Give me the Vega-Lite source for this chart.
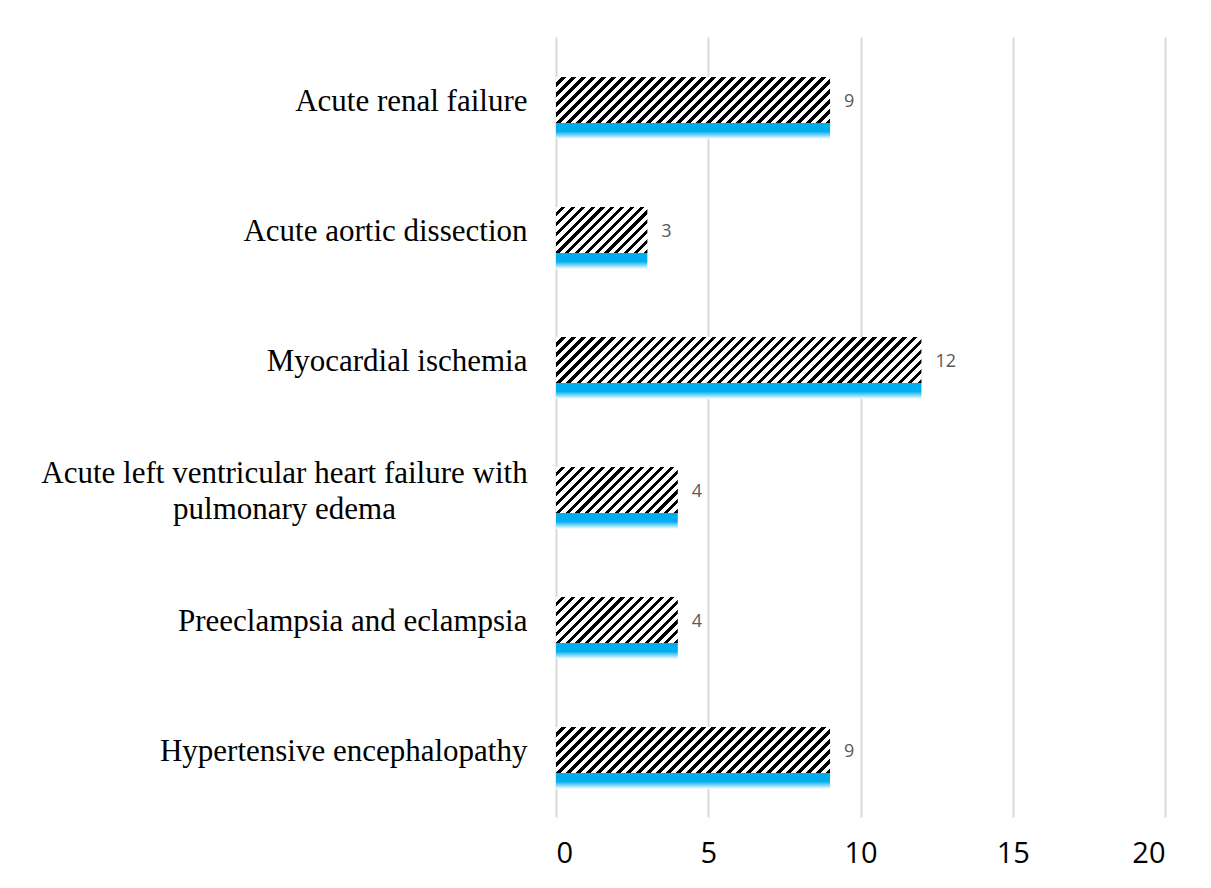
{
"$schema": "https://vega.github.io/schema/vega-lite/v6.json",
"width": 609,
"height": 780,
"autosize": {"type": "none"},
"padding": {"left": 556, "top": 37, "right": 46, "bottom": 71},
"background": "white",
"config": {"view": {"stroke": null}},
"data": {"values": [
{"cause": "Acute renal failure", "value": 9},
{"cause": "Acute aortic dissection", "value": 3},
{"cause": "Myocardial ischemia", "value": 12},
{"cause": "Acute left ventricular heart failure with pulmonary edema", "value": 4},
{"cause": "Preeclampsia and eclampsia", "value": 4},
{"cause": "Hypertensive encephalopathy", "value": 9}
]},
"encoding": {
"y": {"field": "cause", "type": "nominal",
"scale": {"domain": ["Acute renal failure", "Acute aortic dissection", "Myocardial ischemia", "Acute left ventricular heart failure with pulmonary edema", "Preeclampsia and eclampsia", "Hypertensive encephalopathy"], "paddingInner": 0.5, "paddingOuter": 0.25},
"axis": {"title": null, "domain": false, "ticks": false, "grid": false, "labelFont": "Liberation Serif", "labelFontSize": 31, "labelColor": "#000000", "labelLimit": 1000, "labelLineHeight": 36,
"labelExpr": "datum.value == 'Acute left ventricular heart failure with pulmonary edema' ? ['Acute left ventricular heart failure with', 'pulmonary edema'] : datum.label",
"labelAlign": {"condition": {"test": "datum.value == 'Acute left ventricular heart failure with pulmonary edema'", "value": "center"}, "value": "right"},
"labelPadding": {"condition": {"test": "datum.value == 'Acute left ventricular heart failure with pulmonary edema'", "value": 272}, "value": 29},
"labelOffset": {"condition": {"test": "datum.value == 'Acute left ventricular heart failure with pulmonary edema'", "value": -18}, "value": 0}}},
"x": {"field": "value", "type": "quantitative",
"scale": {"domain": [0, 20], "nice": false},
"axis": {"title": null, "domain": false, "ticks": false, "grid": true, "gridColor": "#d9d9d9", "gridWidth": 2, "values": [0, 5, 10, 15, 20], "labelFont": "Open Sans", "labelFontSize": 29, "labelColor": "#000000", "labelPadding": 22}}
},
"layer": [
{"mark": {"type": "bar", "height": 54, "yOffset": 10,
"fill": {"gradient": "linear", "x1": 0, "y1": 0, "x2": 0, "y2": 1, "stops": [
{"offset": 0, "color": "#e3f5fd"}, {"offset": 0.68, "color": "#b5e5f9"}, {"offset": 0.7, "color": "#00aeef"}, {"offset": 0.86, "color": "#00aeef"}, {"offset": 1, "color": "#ffffff"}]}}},
{"transform": [{"filter": "datum.value == 9"}],
"mark": {"type": "bar", "height": 46, "yOffset": -2,
"fill": {"gradient": "linear", "x1": 0, "y1": 0, "x2": 1.1359, "y2": 0.1907, "stops": [
{"offset":0,"color":"#fff"},{"offset":0.0181,"color":"#fff"},{"offset":0.0181,"color":"#000"},{"offset":0.0313,"color":"#000"},
{"offset":0.0313,"color":"#fff"},{"offset":0.0494,"color":"#fff"},{"offset":0.0494,"color":"#000"},{"offset":0.0625,"color":"#000"},
{"offset":0.0625,"color":"#fff"},{"offset":0.0806,"color":"#fff"},{"offset":0.0806,"color":"#000"},{"offset":0.0938,"color":"#000"},
{"offset":0.0938,"color":"#fff"},{"offset":0.1119,"color":"#fff"},{"offset":0.1119,"color":"#000"},{"offset":0.125,"color":"#000"},
{"offset":0.125,"color":"#fff"},{"offset":0.1431,"color":"#fff"},{"offset":0.1431,"color":"#000"},{"offset":0.1563,"color":"#000"},
{"offset":0.1563,"color":"#fff"},{"offset":0.1744,"color":"#fff"},{"offset":0.1744,"color":"#000"},{"offset":0.1875,"color":"#000"},
{"offset":0.1875,"color":"#fff"},{"offset":0.2056,"color":"#fff"},{"offset":0.2056,"color":"#000"},{"offset":0.2188,"color":"#000"},
{"offset":0.2188,"color":"#fff"},{"offset":0.2369,"color":"#fff"},{"offset":0.2369,"color":"#000"},{"offset":0.25,"color":"#000"},
{"offset":0.25,"color":"#fff"},{"offset":0.2681,"color":"#fff"},{"offset":0.2681,"color":"#000"},{"offset":0.2813,"color":"#000"},
{"offset":0.2813,"color":"#fff"},{"offset":0.2994,"color":"#fff"},{"offset":0.2994,"color":"#000"},{"offset":0.3125,"color":"#000"},
{"offset":0.3125,"color":"#fff"},{"offset":0.3306,"color":"#fff"},{"offset":0.3306,"color":"#000"},{"offset":0.3438,"color":"#000"},
{"offset":0.3438,"color":"#fff"},{"offset":0.3619,"color":"#fff"},{"offset":0.3619,"color":"#000"},{"offset":0.375,"color":"#000"},
{"offset":0.375,"color":"#fff"},{"offset":0.3931,"color":"#fff"},{"offset":0.3931,"color":"#000"},{"offset":0.4063,"color":"#000"},
{"offset":0.4063,"color":"#fff"},{"offset":0.4244,"color":"#fff"},{"offset":0.4244,"color":"#000"},{"offset":0.4375,"color":"#000"},
{"offset":0.4375,"color":"#fff"},{"offset":0.4556,"color":"#fff"},{"offset":0.4556,"color":"#000"},{"offset":0.4688,"color":"#000"},
{"offset":0.4688,"color":"#fff"},{"offset":0.4869,"color":"#fff"},{"offset":0.4869,"color":"#000"},{"offset":0.5,"color":"#000"},
{"offset":0.5,"color":"#fff"},{"offset":0.5181,"color":"#fff"},{"offset":0.5181,"color":"#000"},{"offset":0.5313,"color":"#000"},
{"offset":0.5313,"color":"#fff"},{"offset":0.5494,"color":"#fff"},{"offset":0.5494,"color":"#000"},{"offset":0.5625,"color":"#000"},
{"offset":0.5625,"color":"#fff"},{"offset":0.5806,"color":"#fff"},{"offset":0.5806,"color":"#000"},{"offset":0.5938,"color":"#000"},
{"offset":0.5938,"color":"#fff"},{"offset":0.6119,"color":"#fff"},{"offset":0.6119,"color":"#000"},{"offset":0.625,"color":"#000"},
{"offset":0.625,"color":"#fff"},{"offset":0.6431,"color":"#fff"},{"offset":0.6431,"color":"#000"},{"offset":0.6563,"color":"#000"},
{"offset":0.6563,"color":"#fff"},{"offset":0.6744,"color":"#fff"},{"offset":0.6744,"color":"#000"},{"offset":0.6875,"color":"#000"},
{"offset":0.6875,"color":"#fff"},{"offset":0.7056,"color":"#fff"},{"offset":0.7056,"color":"#000"},{"offset":0.7188,"color":"#000"},
{"offset":0.7188,"color":"#fff"},{"offset":0.7369,"color":"#fff"},{"offset":0.7369,"color":"#000"},{"offset":0.75,"color":"#000"},
{"offset":0.75,"color":"#fff"},{"offset":0.7681,"color":"#fff"},{"offset":0.7681,"color":"#000"},{"offset":0.7813,"color":"#000"},
{"offset":0.7813,"color":"#fff"},{"offset":0.7994,"color":"#fff"},{"offset":0.7994,"color":"#000"},{"offset":0.8125,"color":"#000"},
{"offset":0.8125,"color":"#fff"},{"offset":0.8306,"color":"#fff"},{"offset":0.8306,"color":"#000"},{"offset":0.8438,"color":"#000"},
{"offset":0.8438,"color":"#fff"},{"offset":0.8619,"color":"#fff"},{"offset":0.8619,"color":"#000"},{"offset":0.875,"color":"#000"},
{"offset":0.875,"color":"#fff"},{"offset":0.8931,"color":"#fff"},{"offset":0.8931,"color":"#000"},{"offset":0.9063,"color":"#000"},
{"offset":0.9063,"color":"#fff"},{"offset":0.9244,"color":"#fff"},{"offset":0.9244,"color":"#000"},{"offset":0.9375,"color":"#000"},
{"offset":0.9375,"color":"#fff"},{"offset":0.9556,"color":"#fff"},{"offset":0.9556,"color":"#000"},{"offset":0.9688,"color":"#000"},
{"offset":0.9688,"color":"#fff"},{"offset":0.9869,"color":"#fff"},{"offset":0.9869,"color":"#000"},{"offset":1,"color":"#000"}
]}}},
{"transform": [{"filter": "datum.value == 3"}],
"mark": {"type": "bar", "height": 46, "yOffset": -2,
"fill": {"gradient": "linear", "x1": 0, "y1": 0, "x2": 1.1994, "y2": 0.604, "stops": [
{"offset":0,"color":"#fff"},{"offset":0.0414,"color":"#fff"},{"offset":0.0414,"color":"#000"},{"offset":0.0714,"color":"#000"},
{"offset":0.0714,"color":"#fff"},{"offset":0.1129,"color":"#fff"},{"offset":0.1129,"color":"#000"},{"offset":0.1429,"color":"#000"},
{"offset":0.1429,"color":"#fff"},{"offset":0.1843,"color":"#fff"},{"offset":0.1843,"color":"#000"},{"offset":0.2143,"color":"#000"},
{"offset":0.2143,"color":"#fff"},{"offset":0.2557,"color":"#fff"},{"offset":0.2557,"color":"#000"},{"offset":0.2857,"color":"#000"},
{"offset":0.2857,"color":"#fff"},{"offset":0.3271,"color":"#fff"},{"offset":0.3271,"color":"#000"},{"offset":0.3571,"color":"#000"},
{"offset":0.3571,"color":"#fff"},{"offset":0.3986,"color":"#fff"},{"offset":0.3986,"color":"#000"},{"offset":0.4286,"color":"#000"},
{"offset":0.4286,"color":"#fff"},{"offset":0.47,"color":"#fff"},{"offset":0.47,"color":"#000"},{"offset":0.5,"color":"#000"},
{"offset":0.5,"color":"#fff"},{"offset":0.5414,"color":"#fff"},{"offset":0.5414,"color":"#000"},{"offset":0.5714,"color":"#000"},
{"offset":0.5714,"color":"#fff"},{"offset":0.6129,"color":"#fff"},{"offset":0.6129,"color":"#000"},{"offset":0.6429,"color":"#000"},
{"offset":0.6429,"color":"#fff"},{"offset":0.6843,"color":"#fff"},{"offset":0.6843,"color":"#000"},{"offset":0.7143,"color":"#000"},
{"offset":0.7143,"color":"#fff"},{"offset":0.7557,"color":"#fff"},{"offset":0.7557,"color":"#000"},{"offset":0.7857,"color":"#000"},
{"offset":0.7857,"color":"#fff"},{"offset":0.8271,"color":"#fff"},{"offset":0.8271,"color":"#000"},{"offset":0.8571,"color":"#000"},
{"offset":0.8571,"color":"#fff"},{"offset":0.8986,"color":"#fff"},{"offset":0.8986,"color":"#000"},{"offset":0.9286,"color":"#000"},
{"offset":0.9286,"color":"#fff"},{"offset":0.97,"color":"#fff"},{"offset":0.97,"color":"#000"},{"offset":1,"color":"#000"}
]}}},
{"transform": [{"filter": "datum.value == 12"}],
"mark": {"type": "bar", "height": 46, "yOffset": -2,
"fill": {"gradient": "linear", "x1": 0, "y1": 0, "x2": 1.1083, "y2": 0.1395, "stops": [
{"offset":0,"color":"#fff"},{"offset":0.0141,"color":"#fff"},{"offset":0.0141,"color":"#000"},{"offset":0.0244,"color":"#000"},
{"offset":0.0244,"color":"#fff"},{"offset":0.0385,"color":"#fff"},{"offset":0.0385,"color":"#000"},{"offset":0.0488,"color":"#000"},
{"offset":0.0488,"color":"#fff"},{"offset":0.0629,"color":"#fff"},{"offset":0.0629,"color":"#000"},{"offset":0.0732,"color":"#000"},
{"offset":0.0732,"color":"#fff"},{"offset":0.0873,"color":"#fff"},{"offset":0.0873,"color":"#000"},{"offset":0.0976,"color":"#000"},
{"offset":0.0976,"color":"#fff"},{"offset":0.1117,"color":"#fff"},{"offset":0.1117,"color":"#000"},{"offset":0.122,"color":"#000"},
{"offset":0.122,"color":"#fff"},{"offset":0.1361,"color":"#fff"},{"offset":0.1361,"color":"#000"},{"offset":0.1463,"color":"#000"},
{"offset":0.1463,"color":"#fff"},{"offset":0.1605,"color":"#fff"},{"offset":0.1605,"color":"#000"},{"offset":0.1707,"color":"#000"},
{"offset":0.1707,"color":"#fff"},{"offset":0.1849,"color":"#fff"},{"offset":0.1849,"color":"#000"},{"offset":0.1951,"color":"#000"},
{"offset":0.1951,"color":"#fff"},{"offset":0.2093,"color":"#fff"},{"offset":0.2093,"color":"#000"},{"offset":0.2195,"color":"#000"},
{"offset":0.2195,"color":"#fff"},{"offset":0.2337,"color":"#fff"},{"offset":0.2337,"color":"#000"},{"offset":0.2439,"color":"#000"},
{"offset":0.2439,"color":"#fff"},{"offset":0.258,"color":"#fff"},{"offset":0.258,"color":"#000"},{"offset":0.2683,"color":"#000"},
{"offset":0.2683,"color":"#fff"},{"offset":0.2824,"color":"#fff"},{"offset":0.2824,"color":"#000"},{"offset":0.2927,"color":"#000"},
{"offset":0.2927,"color":"#fff"},{"offset":0.3068,"color":"#fff"},{"offset":0.3068,"color":"#000"},{"offset":0.3171,"color":"#000"},
{"offset":0.3171,"color":"#fff"},{"offset":0.3312,"color":"#fff"},{"offset":0.3312,"color":"#000"},{"offset":0.3415,"color":"#000"},
{"offset":0.3415,"color":"#fff"},{"offset":0.3556,"color":"#fff"},{"offset":0.3556,"color":"#000"},{"offset":0.3659,"color":"#000"},
{"offset":0.3659,"color":"#fff"},{"offset":0.38,"color":"#fff"},{"offset":0.38,"color":"#000"},{"offset":0.3902,"color":"#000"},
{"offset":0.3902,"color":"#fff"},{"offset":0.4044,"color":"#fff"},{"offset":0.4044,"color":"#000"},{"offset":0.4146,"color":"#000"},
{"offset":0.4146,"color":"#fff"},{"offset":0.4288,"color":"#fff"},{"offset":0.4288,"color":"#000"},{"offset":0.439,"color":"#000"},
{"offset":0.439,"color":"#fff"},{"offset":0.4532,"color":"#fff"},{"offset":0.4532,"color":"#000"},{"offset":0.4634,"color":"#000"},
{"offset":0.4634,"color":"#fff"},{"offset":0.4776,"color":"#fff"},{"offset":0.4776,"color":"#000"},{"offset":0.4878,"color":"#000"},
{"offset":0.4878,"color":"#fff"},{"offset":0.502,"color":"#fff"},{"offset":0.502,"color":"#000"},{"offset":0.5122,"color":"#000"},
{"offset":0.5122,"color":"#fff"},{"offset":0.5263,"color":"#fff"},{"offset":0.5263,"color":"#000"},{"offset":0.5366,"color":"#000"},
{"offset":0.5366,"color":"#fff"},{"offset":0.5507,"color":"#fff"},{"offset":0.5507,"color":"#000"},{"offset":0.561,"color":"#000"},
{"offset":0.561,"color":"#fff"},{"offset":0.5751,"color":"#fff"},{"offset":0.5751,"color":"#000"},{"offset":0.5854,"color":"#000"},
{"offset":0.5854,"color":"#fff"},{"offset":0.5995,"color":"#fff"},{"offset":0.5995,"color":"#000"},{"offset":0.6098,"color":"#000"},
{"offset":0.6098,"color":"#fff"},{"offset":0.6239,"color":"#fff"},{"offset":0.6239,"color":"#000"},{"offset":0.6341,"color":"#000"},
{"offset":0.6341,"color":"#fff"},{"offset":0.6483,"color":"#fff"},{"offset":0.6483,"color":"#000"},{"offset":0.6585,"color":"#000"},
{"offset":0.6585,"color":"#fff"},{"offset":0.6727,"color":"#fff"},{"offset":0.6727,"color":"#000"},{"offset":0.6829,"color":"#000"},
{"offset":0.6829,"color":"#fff"},{"offset":0.6971,"color":"#fff"},{"offset":0.6971,"color":"#000"},{"offset":0.7073,"color":"#000"},
{"offset":0.7073,"color":"#fff"},{"offset":0.7215,"color":"#fff"},{"offset":0.7215,"color":"#000"},{"offset":0.7317,"color":"#000"},
{"offset":0.7317,"color":"#fff"},{"offset":0.7459,"color":"#fff"},{"offset":0.7459,"color":"#000"},{"offset":0.7561,"color":"#000"},
{"offset":0.7561,"color":"#fff"},{"offset":0.7702,"color":"#fff"},{"offset":0.7702,"color":"#000"},{"offset":0.7805,"color":"#000"},
{"offset":0.7805,"color":"#fff"},{"offset":0.7946,"color":"#fff"},{"offset":0.7946,"color":"#000"},{"offset":0.8049,"color":"#000"},
{"offset":0.8049,"color":"#fff"},{"offset":0.819,"color":"#fff"},{"offset":0.819,"color":"#000"},{"offset":0.8293,"color":"#000"},
{"offset":0.8293,"color":"#fff"},{"offset":0.8434,"color":"#fff"},{"offset":0.8434,"color":"#000"},{"offset":0.8537,"color":"#000"},
{"offset":0.8537,"color":"#fff"},{"offset":0.8678,"color":"#fff"},{"offset":0.8678,"color":"#000"},{"offset":0.878,"color":"#000"},
{"offset":0.878,"color":"#fff"},{"offset":0.8922,"color":"#fff"},{"offset":0.8922,"color":"#000"},{"offset":0.9024,"color":"#000"},
{"offset":0.9024,"color":"#fff"},{"offset":0.9166,"color":"#fff"},{"offset":0.9166,"color":"#000"},{"offset":0.9268,"color":"#000"},
{"offset":0.9268,"color":"#fff"},{"offset":0.941,"color":"#fff"},{"offset":0.941,"color":"#000"},{"offset":0.9512,"color":"#000"},
{"offset":0.9512,"color":"#fff"},{"offset":0.9654,"color":"#fff"},{"offset":0.9654,"color":"#000"},{"offset":0.9756,"color":"#000"},
{"offset":0.9756,"color":"#fff"},{"offset":0.9898,"color":"#fff"},{"offset":0.9898,"color":"#000"},{"offset":1,"color":"#000"}
]}}},
{"transform": [{"filter": "datum.value == 4"}],
"mark": {"type": "bar", "height": 46, "yOffset": -2,
"fill": {"gradient": "linear", "x1": 0, "y1": 0, "x2": 1.2057, "y2": 0.4554, "stops": [
{"offset":0,"color":"#fff"},{"offset":0.0341,"color":"#fff"},{"offset":0.0341,"color":"#000"},{"offset":0.0588,"color":"#000"},
{"offset":0.0588,"color":"#fff"},{"offset":0.0929,"color":"#fff"},{"offset":0.0929,"color":"#000"},{"offset":0.1176,"color":"#000"},
{"offset":0.1176,"color":"#fff"},{"offset":0.1518,"color":"#fff"},{"offset":0.1518,"color":"#000"},{"offset":0.1765,"color":"#000"},
{"offset":0.1765,"color":"#fff"},{"offset":0.2106,"color":"#fff"},{"offset":0.2106,"color":"#000"},{"offset":0.2353,"color":"#000"},
{"offset":0.2353,"color":"#fff"},{"offset":0.2694,"color":"#fff"},{"offset":0.2694,"color":"#000"},{"offset":0.2941,"color":"#000"},
{"offset":0.2941,"color":"#fff"},{"offset":0.3282,"color":"#fff"},{"offset":0.3282,"color":"#000"},{"offset":0.3529,"color":"#000"},
{"offset":0.3529,"color":"#fff"},{"offset":0.3871,"color":"#fff"},{"offset":0.3871,"color":"#000"},{"offset":0.4118,"color":"#000"},
{"offset":0.4118,"color":"#fff"},{"offset":0.4459,"color":"#fff"},{"offset":0.4459,"color":"#000"},{"offset":0.4706,"color":"#000"},
{"offset":0.4706,"color":"#fff"},{"offset":0.5047,"color":"#fff"},{"offset":0.5047,"color":"#000"},{"offset":0.5294,"color":"#000"},
{"offset":0.5294,"color":"#fff"},{"offset":0.5635,"color":"#fff"},{"offset":0.5635,"color":"#000"},{"offset":0.5882,"color":"#000"},
{"offset":0.5882,"color":"#fff"},{"offset":0.6224,"color":"#fff"},{"offset":0.6224,"color":"#000"},{"offset":0.6471,"color":"#000"},
{"offset":0.6471,"color":"#fff"},{"offset":0.6812,"color":"#fff"},{"offset":0.6812,"color":"#000"},{"offset":0.7059,"color":"#000"},
{"offset":0.7059,"color":"#fff"},{"offset":0.74,"color":"#fff"},{"offset":0.74,"color":"#000"},{"offset":0.7647,"color":"#000"},
{"offset":0.7647,"color":"#fff"},{"offset":0.7988,"color":"#fff"},{"offset":0.7988,"color":"#000"},{"offset":0.8235,"color":"#000"},
{"offset":0.8235,"color":"#fff"},{"offset":0.8576,"color":"#fff"},{"offset":0.8576,"color":"#000"},{"offset":0.8824,"color":"#000"},
{"offset":0.8824,"color":"#fff"},{"offset":0.9165,"color":"#fff"},{"offset":0.9165,"color":"#000"},{"offset":0.9412,"color":"#000"},
{"offset":0.9412,"color":"#fff"},{"offset":0.9753,"color":"#fff"},{"offset":0.9753,"color":"#000"},{"offset":1,"color":"#000"}
]}}},
{"mark": {"type": "text", "align": "left", "baseline": "middle", "dx": 14, "font": "Open Sans", "fontSize": 18, "fill": "#595959"},
"encoding": {"text": {"field": "value", "type": "quantitative"}}}
]
}
